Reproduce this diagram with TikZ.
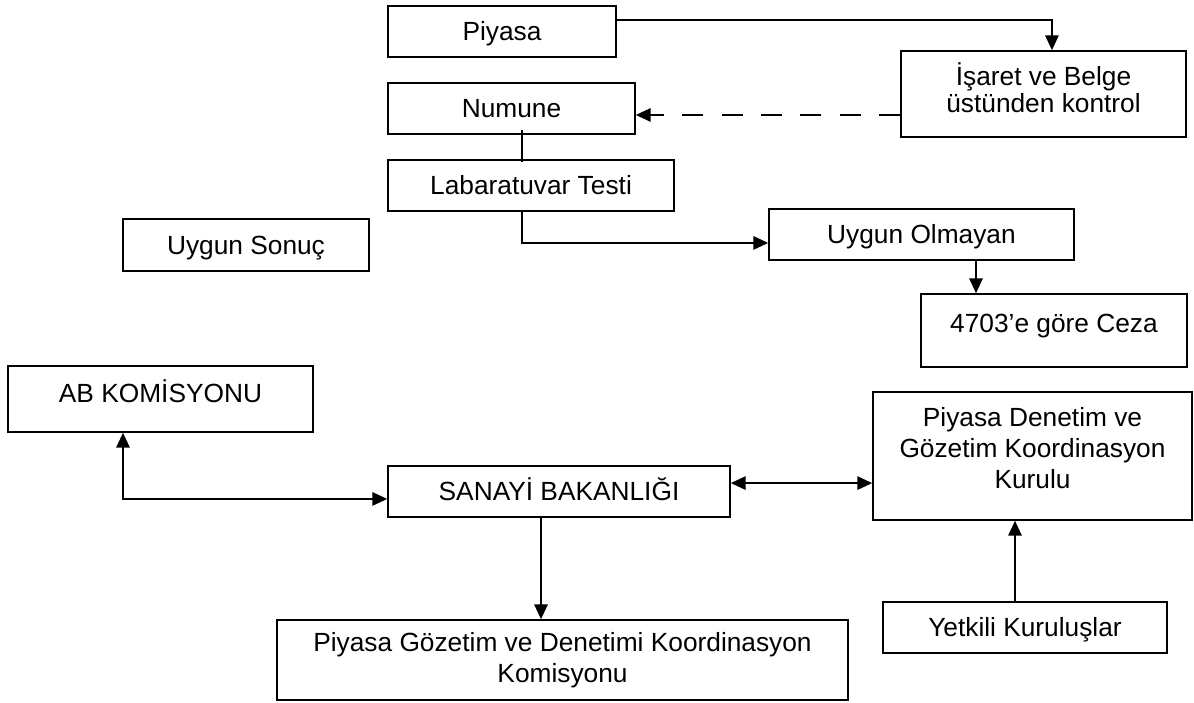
\documentclass[tikz,border=0pt]{standalone}
\usepackage{fontspec}
\setmainfont{Liberation Sans}
\usetikzlibrary{arrows.meta}

\begin{document}
\begin{tikzpicture}[x=0.025cm, y=-0.025cm, line width=1.1pt,
        box/.style={draw, inner sep=0pt, text height=16.7pt, text depth=3.9pt, font=\fontsize{18.7}{22}\selectfont},
        mbox/.style={draw, inner sep=0pt, align=center, font=\fontsize{18.7}{22}\selectfont},
        arr/.style={-{Triangle[length=10.5pt, width=9.5pt]}},
        arrs/.style={{Triangle[length=10.5pt, width=9.5pt]}-{Triangle[length=10.5pt, width=9.5pt]}}]

        \useasboundingbox (0, 0) rectangle (1194, 702);

        % upper chart
        \node[box, minimum width=5.7cm, minimum height=1.275cm] (piyasa) at (502, 31.5) {Piyasa};
        \node[mbox, minimum width=7.125cm, minimum height=2.15cm, text depth=8.8pt, font=\fontsize{18.7}{19.2}\selectfont] (isaret) at (1043.5, 94) {İşaret ve Belge\\üstünden kontrol};
        \node[box, minimum width=6.175cm, minimum height=1.275cm] (numune) at (511.5, 108.5) {Numune};
        \node[box, minimum width=7.15cm, minimum height=1.275cm] (lab) at (531, 185.5) {Labaratuvar Testi};
        \node[box, minimum width=6.15cm, minimum height=1.3cm] (sonuc) at (246, 245) {Uygun Sonuç};
        \node[box, minimum width=7.625cm, minimum height=1.275cm] (olmayan) at (921.5, 234.5) {Uygun Olmayan};
        \node[box, minimum width=6.65cm, minimum height=1.825cm, text depth=13.5pt] (ceza) at (1054, 330.5) {4703’e göre Ceza};

        % lower chart
        \node[box, minimum width=7.625cm, minimum height=1.65cm, text depth=12.1pt] (ab) at (160.5, 399) {AB KOMİSYONU};
        \node[box, minimum width=8.55cm, minimum height=1.275cm] (sanayi) at (559, 491.5) {SANAYİ BAKANLIĞI};
        \node[mbox, minimum width=7.975cm, minimum height=3.2cm, text depth=11.6pt] (kurul) at (1032.5, 456) {Piyasa Denetim ve\\Gözetim Koordinasyon\\Kurulu};
        \node[box, minimum width=7.1cm, minimum height=1.275cm] (yetkili) at (1025, 627.5) {Yetkili Kuruluşlar};
        \node[mbox, minimum width=14.275cm, minimum height=2cm] (komisyon) at (562.5, 660) {Piyasa Gözetim ve Denetimi Koordinasyon\\Komisyonu};

        \coordinate (nl) at (522, 0); % Numune - Labaratuvar line
        \coordinate (oc) at (976, 0); % Uygun Olmayan - Ceza
        \coordinate (ax) at (123, 0); % AB line
        \coordinate (sk) at (541, 0); % Sanayi - Komisyon
        \coordinate (yk) at (1015, 0); % Yetkili - Kurul
        \coordinate (nd) at ([yshift=-4.6pt]numune.east);
        \coordinate (sp) at ([yshift=6pt]sanayi.east);

        \draw[arr] ([yshift=-10.7pt]piyasa.north east) -| ([xshift=6pt]isaret.north);
        \draw[arr, dash pattern=on 15pt off 13pt] (isaret.west |- nd) -- (nd);
        \draw ([yshift=3.5pt]nl |- numune.south) -- ([yshift=-2pt]nl |- lab.north);
        \draw[arr] (nl |- lab.south) |- ([yshift=-6pt]olmayan.west);
        \draw[arr] (oc |- olmayan.south) -- (oc |- ceza.north);

        \draw[arrs] (ax |- ab.south) |- ([yshift=-5.3pt]sanayi.west);
        \draw[arrs] (sp) -- (sp -| kurul.west);
        \draw[arr] (sk |- sanayi.south) -- (sk |- komisyon.north);
        \draw[arr] (yk |- yetkili.north) -- (yk |- kurul.south);

    \end{tikzpicture}
\end{document}
